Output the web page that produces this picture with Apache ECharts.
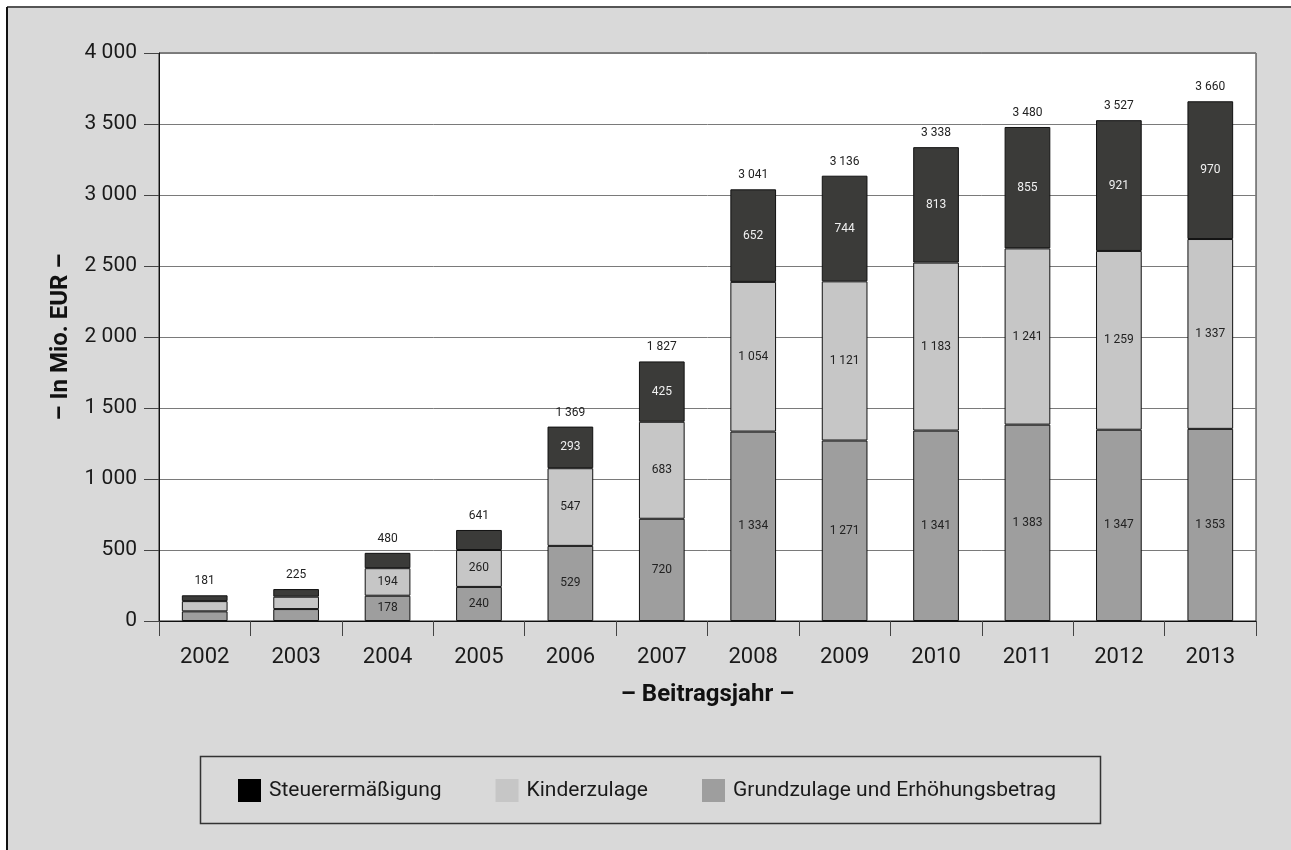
<!DOCTYPE html>
<html>
<head>
<meta charset="utf-8">
<script src="https://cdn.jsdelivr.net/npm/echarts@6/dist/echarts.min.js"></script>
<style>
  html, body { margin: 0; padding: 0; background: #ffffff; }
  #chart { width: 1291px; height: 850px; }
</style>
</head>
<body>
<div id="chart"></div>
<script>
// Beitragsjahre
const years = ['2002', '2003', '2004', '2005', '2006', '2007', '2008', '2009', '2010', '2011', '2012', '2013'];

// Zulagen und Steuerermäßigung in Mio. EUR
const grundzulage = [68, 84, 178, 240, 529, 720, 1334, 1271, 1341, 1383, 1347, 1353];
const kinderzulage = [72, 87, 194, 260, 547, 683, 1054, 1121, 1183, 1241, 1259, 1337];
const steuerermaessigung = [41, 54, 108, 141, 293, 425, 652, 744, 813, 855, 921, 970];
// Gesamtbeträge, wie über den Säulen ausgewiesen
const totals = [181, 225, 480, 641, 1369, 1827, 3041, 3136, 3338, 3480, 3527, 3660];

const seriesNames = ['Steuerermäßigung', 'Kinderzulage', 'Grundzulage und Erhöhungsbetrag'];

const FONT = 'Roboto, "DejaVu Sans", sans-serif';

function fmt(v) {
  return String(Math.round(v)).replace(/\B(?=(\d{3})+(?!\d))/g, ' ');
}

// Segments too small for an inside label stay unlabelled
function segmentData(values) {
  return values.map(v => ({ value: v, label: { show: v >= 150 } }));
}

const chart = echarts.init(document.getElementById('chart'), null, { renderer: 'canvas' });

const barBase = {
  type: 'bar',
  stack: 'total',
  barWidth: '50%',
  label: {
    show: true,
    position: 'inside',
    fontFamily: FONT,
    fontSize: 12,
    formatter: p => fmt(p.value)
  }
};

chart.setOption({
  backgroundColor: '#ffffff',
  animation: false,
  textStyle: { fontFamily: FONT },
  graphic: [
    { type: 'rect', silent: true, z: -10, shape: { x: 7, y: 7, width: 1284, height: 843 }, style: { fill: '#d9d9d9' } },
    { type: 'line', silent: true, z: -9, shape: { x1: 7, y1: 7, x2: 1291, y2: 7 }, style: { stroke: '#555555', lineWidth: 2 } },
    { type: 'line', silent: true, z: -9, shape: { x1: 7, y1: 7, x2: 7, y2: 850 }, style: { stroke: '#111111', lineWidth: 2 } },
    { type: 'rect', silent: true, z: -8, shape: { x: 200.5, y: 756.5, width: 900, height: 67 }, style: { fill: '#d9d9d9', stroke: '#333333', lineWidth: 1.5 } }
  ],
  grid: {
    left: 159, right: 35, top: 53, bottom: 229,
    show: true,
    backgroundColor: '#ffffff',
    borderColor: '#222222',
    borderWidth: 1
  },
  legend: {
    left: 233,
    top: 774,
    itemWidth: 23,
    itemHeight: 23,
    itemGap: 54,
    textStyle: { fontFamily: FONT, fontSize: 21, color: '#1a1a1a', padding: [0, 0, 0, 3] },
    data: [
      { name: seriesNames[0], icon: 'rect', itemStyle: { color: '#000000', borderWidth: 0 } },
      { name: seriesNames[1], icon: 'rect', itemStyle: { color: '#c6c6c6', borderWidth: 0 } },
      { name: seriesNames[2], icon: 'rect', itemStyle: { color: '#9e9e9e', borderWidth: 0 } }
    ]
  },
  xAxis: {
    type: 'category',
    data: years,
    name: '– Beitragsjahr –',
    nameLocation: 'middle',
    nameGap: 62,
    nameTextStyle: { fontFamily: FONT, fontSize: 24, fontWeight: 'bold', color: '#111111' },
    axisLine: { lineStyle: { color: '#111111', width: 1 } },
    axisTick: { show: true, length: 15, lineStyle: { color: '#444444' } },
    axisLabel: { margin: 25, fontFamily: FONT, fontSize: 22, color: '#1a1a1a' }
  },
  yAxis: {
    type: 'value',
    min: 0,
    max: 4000,
    interval: 500,
    name: '– In Mio. EUR –',
    nameLocation: 'middle',
    nameGap: 86,
    nameRotate: 90,
    nameTextStyle: { fontFamily: FONT, fontSize: 24, fontWeight: 'bold', color: '#111111' },
    axisLine: { show: true, lineStyle: { color: '#111111', width: 1 } },
    axisTick: { show: true, length: 15, inside: false, lineStyle: { color: '#444444' } },
    axisLabel: { margin: 22, fontFamily: FONT, fontSize: 21, color: '#1a1a1a', formatter: v => fmt(v) },
    splitLine: { show: true, lineStyle: { color: '#7a7a7a', width: 1 } }
  },
  series: [
    Object.assign({}, barBase, {
      name: seriesNames[2],
      data: segmentData(grundzulage),
      itemStyle: { color: '#9e9e9e', borderColor: '#111111', borderWidth: 1 },
      label: Object.assign({}, barBase.label, { color: '#222222' })
    }),
    Object.assign({}, barBase, {
      name: seriesNames[1],
      data: segmentData(kinderzulage),
      itemStyle: { color: '#c6c6c6', borderColor: '#111111', borderWidth: 1 },
      label: Object.assign({}, barBase.label, { color: '#222222' })
    }),
    Object.assign({}, barBase, {
      name: seriesNames[0],
      data: segmentData(steuerermaessigung),
      itemStyle: { color: '#3b3b39', borderColor: '#111111', borderWidth: 1 },
      label: Object.assign({}, barBase.label, { color: '#f0f0f0' })
    }),
    {
      // Zero-height cap carrying the total above each column
      name: 'Gesamt',
      type: 'bar',
      stack: 'total',
      barWidth: '50%',
      silent: true,
      data: totals.map(() => 0),
      itemStyle: { color: 'rgba(0,0,0,0)', borderWidth: 0 },
      label: {
        show: true,
        position: 'top',
        distance: 8,
        fontFamily: FONT,
        fontSize: 12,
        color: '#222222',
        formatter: p => fmt(totals[p.dataIndex])
      }
    }
  ]
});
</script>
</body>
</html>
